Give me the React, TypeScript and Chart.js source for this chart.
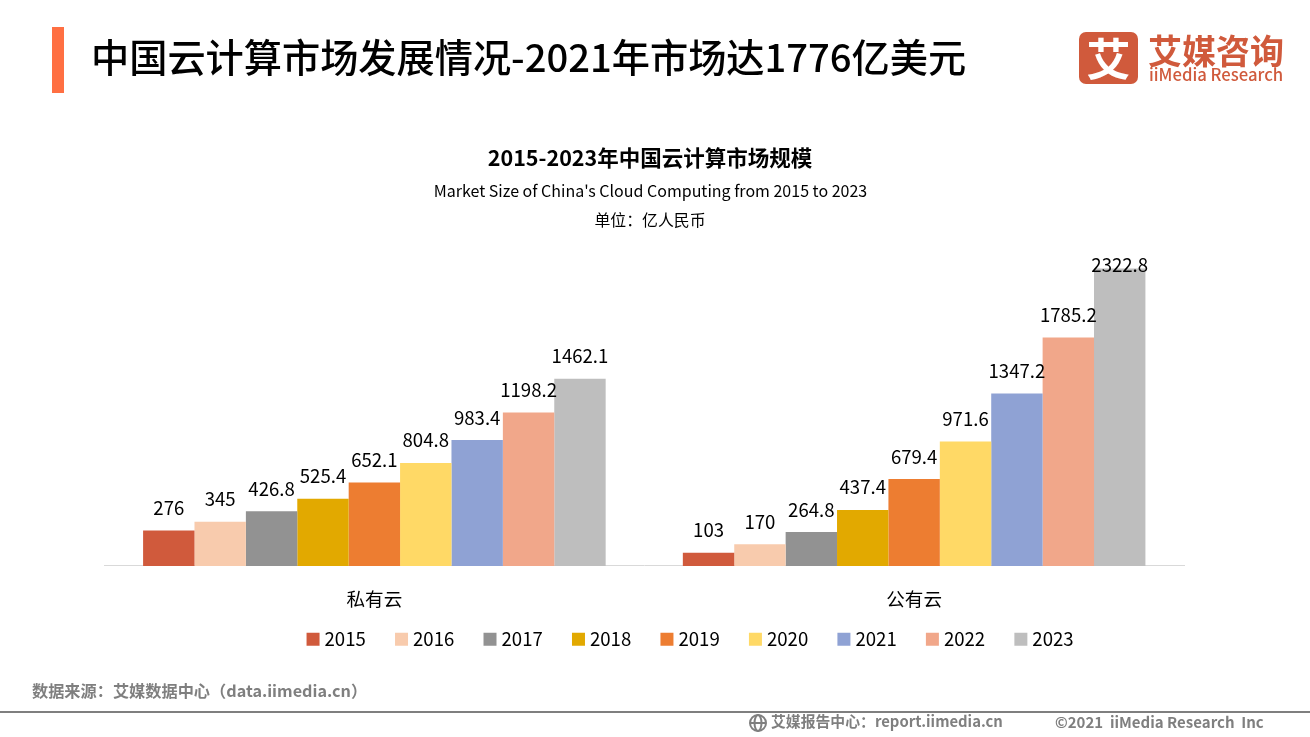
import React, { useEffect, useRef } from "react";
import { Chart, registerables } from "chart.js";

Chart.register(...registerables);

const categories = ["私有云", "公有云"];
const years = ["2015", "2016", "2017", "2018", "2019", "2020", "2021", "2022", "2023"];
const privateCloud = [276, 345, 426.8, 525.4, 652.1, 804.8, 983.4, 1198.2, 1462.1];
const publicCloud = [103, 170, 264.8, 437.4, 679.4, 971.6, 1347.2, 1785.2, 2322.8];
const colors = ["#D05A3C", "#F8CBAD", "#929292", "#E2A900", "#ED7D31", "#FFD966", "#8FA2D4", "#F1A78A", "#BEBEBE"];

const FONT = '"Noto Sans CJK SC", "Noto Sans", sans-serif';
const LABEL_SIZE = 18.6;

const labelPlugin = {
  id: "barLabels",
  afterLayout(chart: any) {
    // The legend sits right of the plot's centre and close under the axis labels in the reference.
    chart.legend.left += 48;
    chart.legend.right += 48;
    chart.legend.top -= 15.5;
    chart.legend.bottom -= 15.5;
  },
  afterDatasetsDraw(chart: any) {
    const { ctx } = chart;
    ctx.save();
    ctx.font = `${LABEL_SIZE}px ${FONT}`;
    ctx.fillStyle = "#000";
    ctx.textAlign = "center";
    ctx.textBaseline = "middle";
    chart.data.datasets.forEach((ds: any, i: number) => {
      chart.getDatasetMeta(i).data.forEach((bar: any, j: number) => {
        ctx.fillText(String(ds.data[j]), bar.x, Math.max(bar.y - 22.5, chart.chartArea.top + 5));
      });
    });
    ctx.restore();
  },
};

const abs = (left: number, top: number, extra: React.CSSProperties = {}): React.CSSProperties => ({
  position: "absolute",
  left,
  top,
  fontFamily: FONT,
  whiteSpace: "pre",
  lineHeight: 1,
  ...extra,
});

export default function App() {
  const ref = useRef<HTMLCanvasElement>(null);
  useEffect(() => {
    const chart = new Chart(ref.current!, {
      type: "bar",
      data: {
        labels: categories,
        datasets: years.map((y, i) => ({
          label: y,
          data: [privateCloud[i], publicCloud[i]],
          backgroundColor: colors[i],
          borderWidth: 0,
          barPercentage: 1,
          categoryPercentage: 0.857,
        })),
      },
      plugins: [labelPlugin],
      options: {
        animation: false,
        responsive: false,
        devicePixelRatio: 1,
        layout: { padding: { left: 104.5, right: 126, top: 260, bottom: 63 } },
        plugins: {
          title: { display: false },
          tooltip: { enabled: false },
          legend: {
            position: "bottom",
            labels: {
              usePointStyle: true,
              pointStyle: "rect",
              boxWidth: 4.4,
              boxHeight: 13,
              padding: 33.5,
              color: "#000",
              font: { family: FONT, size: LABEL_SIZE },
            },
          },
        },
        scales: {
          x: {
            grid: { display: false, drawTicks: false },
            border: { color: "#D9D9D9", width: 1 },
            ticks: { color: "#000", font: { family: FONT, size: LABEL_SIZE }, padding: 22, maxRotation: 0 },
            afterFit: (s: any) => { s.height = 46; },
          },
          y: { display: false, min: 0, max: 2390 },
        },
      },
    } as any);
    return () => chart.destroy();
  }, []);

  return (
    <div style={{ position: "absolute", left: 0, top: 0, width: 1310, height: 737, background: "#fff", overflow: "hidden" }}>
      <canvas ref={ref} width={1310} height={737} style={{ position: "absolute", left: 0, top: 0, width: 1310, height: 737 }} />
      <div style={{ position: "absolute", left: 52, top: 27, width: 12, height: 66, background: "#FF6F42" }} />
      <div style={abs(91, 37, { fontSize: 38.2, fontWeight: 500, color: "#000" })}>中国云计算市场发展情况-2021年市场达1776亿美元</div>

      <div style={{ position: "absolute", left: 1079, top: 32, width: 59, height: 52, borderRadius: 7, background: "#D05A3C", color: "#fff", fontFamily: FONT, fontSize: 44, fontWeight: 700, lineHeight: "50px", textAlign: "center", overflow: "hidden" }}>艾</div>
      <div style={abs(1148, 33, { fontSize: 34, fontWeight: 700, color: "#D05A3C" })}>艾媒咨询</div>
      <div style={abs(1149, 66, { fontSize: 16.7, fontWeight: 500, color: "#D05A3C" })}>iiMedia Research</div>

      <div style={abs(0, 146, { width: 1300, textAlign: "center", fontSize: 21.5, fontWeight: 700, color: "#000" })}>2015-2023年中国云计算市场规模</div>
      <div style={abs(0, 182, { width: 1301, textAlign: "center", fontSize: 16, color: "#000" })}>Market Size of China's Cloud Computing from 2015 to 2023</div>
      <div style={abs(0, 212, { width: 1300, textAlign: "center", fontSize: 15.9, color: "#000" })}>单位：亿人民币</div>

      <div style={abs(32, 682, { fontSize: 16.2, fontWeight: 700, color: "#7F7F7F" })}>数据来源：艾媒数据中心（data.iimedia.cn）</div>
      <div style={{ position: "absolute", left: 0, top: 711, width: 1310, height: 2, background: "#7F7F7F" }} />
      <svg style={{ position: "absolute", left: 748, top: 713 }} width={20} height={20} viewBox="0 0 20 20" fill="none" stroke="#7F7F7F" strokeWidth={2}>
        <circle cx="10" cy="10" r="8" />
        <ellipse cx="10" cy="10" rx="3.5" ry="8" />
        <path d="M2 10h16" />
      </svg>
      <div style={abs(771, 714, { fontSize: 14.85, fontWeight: 700, color: "#7F7F7F" })}>艾媒报告中心：report.iimedia.cn</div>
      <div style={abs(1055, 714, { fontSize: 15, fontWeight: 700, color: "#7F7F7F" })}>©2021  iiMedia Research  Inc</div>
    </div>
  );
}
